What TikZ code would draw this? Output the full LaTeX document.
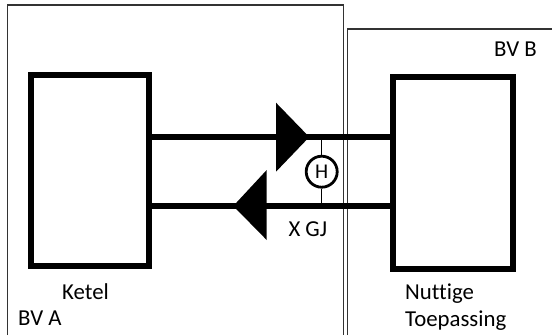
\documentclass[tikz,border=0pt]{standalone}
\usepackage{fontspec}
\setmainfont[Ligatures=NoCommon]{Carlito}
\begin{document}
\begin{tikzpicture}[x=1pt, y=-1pt,
    area/.style={draw=black!80, line width=1.1pt},
    unit/.style={draw, line width=6pt, inner sep=0pt},
    pipe/.style={line width=6pt},
    label/.style={anchor=base west, inner sep=0pt, font=\fontsize{22.8}{26}\selectfont}]

    \useasboundingbox (0,0) rectangle (552,335);

    % Draw the two areas
    \draw[area] (7.5,335) -- (7.5,5) -- (343.5,5) -- (343.5,335);
    \draw[area] (347.5,335) -- (347.5,29) -- (552,29);

    % Boiler and useful application
    \node[unit, minimum width=118pt, minimum height=191pt] (ketel) at (90,170.5) {};
    \node[unit, minimum width=119.5pt, minimum height=192.5pt] (toep) at (452.75,172.75) {};

    % Supply and return pipes
    \coordinate (aanvoer) at (321.7,137);
    \coordinate (retour) at (321.7,206);
    \draw[pipe] (ketel.east |- aanvoer) -- (toep.west |- aanvoer);
    \draw[pipe] (ketel.east |- retour) -- (toep.west |- retour);

    % Flow arrows
    \fill (276,102.7) -- (309.3,137) -- (276,171.7) -- cycle;
    \fill (266.7,170) -- (233.3,206) -- (266.7,240) -- cycle;

    % Heat meter
    \node[draw, circle, line width=2.8pt, minimum size=31pt, inner sep=0pt,
          font=\fontsize{21}{24}\selectfont] (meter) at (321.7,171.7) {H};
    \draw[line width=1pt] (aanvoer) -- (meter.north);
    \draw[line width=1pt] (meter.south) -- (retour);

    % Labels
    \node[label] (gj) at (288.3,236.7) {X GJ};
    \node[label] (ketellabel) at (62,299.3) {Ketel};
    \node[label] (bva) at (18,325) {BV A};
    \node[label] (bvb) at (494,56) {BV B};
    \node[label] (nuttig) at (405,299) {Nuttige};
    \node[label] (toepassing) at (405,326.7) {Toepassing};
\end{tikzpicture}
\end{document}
